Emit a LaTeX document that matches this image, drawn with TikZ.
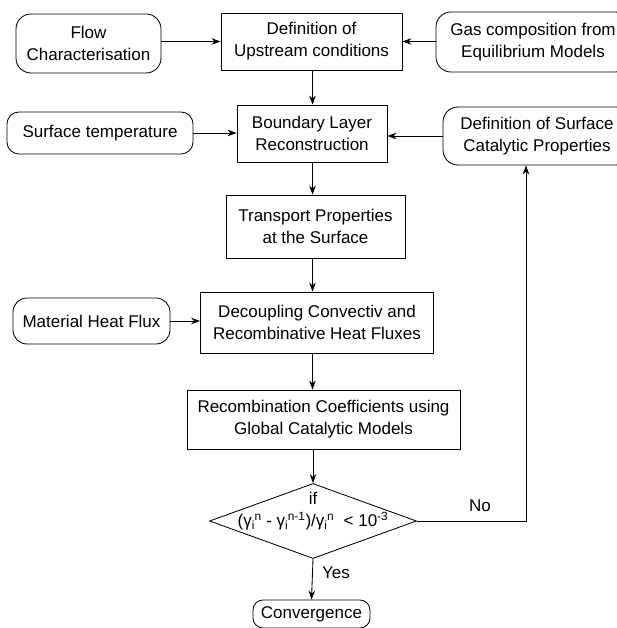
\documentclass[tikz,border=0pt]{standalone}
\usepackage{fontspec}
\setmainfont{Liberation Sans}
\usetikzlibrary{shapes.geometric,arrows.meta,calc}
\newcommand{\fsz}{\fontsize{17}{22}\selectfont}
\newcommand{\gsi}[1]{γ\textsubscript{i}\kern-0.5pt\textsuperscript{#1}}
\tikzset{
  box/.style={draw, line width=0.85pt, align=center, inner sep=0pt, font=\fsz},
  term/.style={box, rounded corners=15pt},
  arr/.style={-{Stealth[length=9pt,width=6.5pt]}, line width=0.85pt},
  lbl/.style={inner sep=0pt, align=center, font=\fsz}
}
\begin{document}
\begin{tikzpicture}[x=1pt,y=-1pt]
\useasboundingbox (0,0) rectangle (617,628);
\clip (0,0) rectangle (617,628);
\coordinate (ax) at (312.5,0);
\coordinate (rc) at (526,0);
% nodes
\node[term, minimum width=145pt, minimum height=59pt] (flow) at (88.5,43.5) {Flow\\Characterisation};
\node[box, minimum width=181pt, minimum height=57pt] (up) at (311.5,41.5) {Definition of\\Upstream conditions};
\node[term, minimum width=194pt, minimum height=60pt] (gas) at (533,42) {Gas composition from\\Equilibrium Models};
\node[term, rounded corners=12pt, minimum width=186pt, minimum height=42pt] (st) at (100,133) {Surface temperature};
\node[box, minimum width=150pt, minimum height=57pt] (bl) at (312,133.5) {Boundary Layer\\Reconstruction};
\node[term, minimum width=188pt, minimum height=58pt] (dsc) at (537,136) {Definition of Surface\\Catalytic Properties};
\node[box, minimum width=179pt, minimum height=63pt] (trans) at (315.5,226.5) {Transport Properties\\at the Surface};
\node[term, rounded corners=14pt, minimum width=157pt, minimum height=46pt] (mat) at (91.5,321) {Material Heat Flux};
\node[box, minimum width=233pt, minimum height=61pt] (dec) at (317,322.5) {Decoupling Convectiv and\\Recombinative Heat Fluxes};
\node[box, minimum width=273pt, minimum height=59pt] (rec) at (323.5,419.5) {Recombination Coefficients using\\Global Catalytic Models};
\node[draw, line width=0.85pt, diamond, inner sep=0pt, minimum width=207pt, minimum height=75pt] (dia) at (313,521) {};
\node[lbl] (cond) at (313,511) {if\\(\gsi{n} - \gsi{n-1})/\gsi{n} \ {<} 10\textsuperscript{-3}};
\node[term, rounded corners=10pt, minimum width=117pt, minimum height=28pt] (conv) at (311.5,614) {Convergence};
\node[lbl] (no) at (480,506) {No};
\node[lbl] (yes) at (336,573) {Yes};
% connectors
\draw[arr] (flow.east |- up) -- (up.west);
\draw[arr] (gas.west |- up) -- (up.east);
\draw[arr] (st.east) -- (st.east -| bl.west);
\draw[arr] (dsc.west) -- (dsc.west -| bl.east);
\draw[arr] (mat.east) -- (mat.east -| dec.west);
\draw[arr] (up.south -| ax) -- (bl.north -| ax);
\draw[arr] (bl.south -| ax) -- (trans.north -| ax);
\draw[arr] (trans.south -| ax) -- (dec.north -| ax);
\draw[arr] (dec.south -| ax) -- (rec.north -| ax);
\draw[arr] (rec.south -| dia.north) -- (dia.north);
\draw[arr] (dia.south) -- (conv.north);
\draw[arr] (dia.east) -| (rc |- dsc.south);
\end{tikzpicture}
\end{document}
